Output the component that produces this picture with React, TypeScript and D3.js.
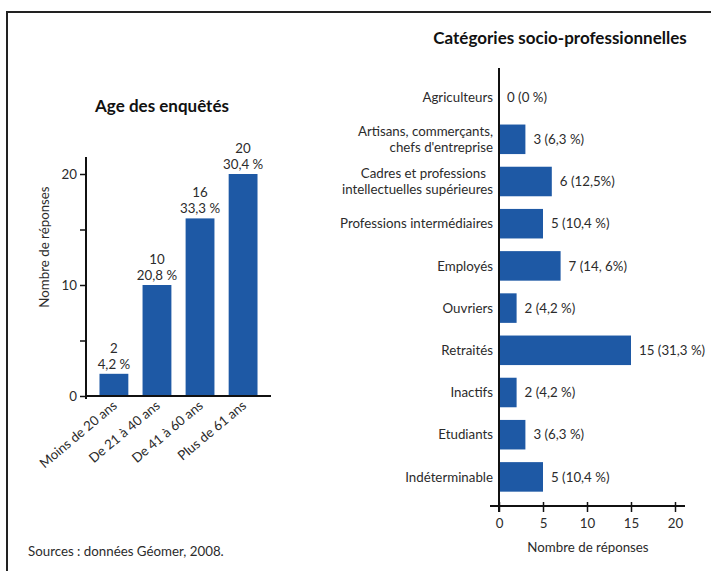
import { useEffect, useRef } from 'react';
import * as d3 from 'd3';

// Age des enquêtés
const ageClasses = ['Moins de 20 ans', 'De 21 à 40 ans', 'De 41 à 60 ans', 'Plus de 61 ans'];
const ageCounts = [2, 10, 16, 20];
const agePercents = ['4,2 %', '20,8 %', '33,3 %', '30,4 %'];
const ageTicks = [0, 5, 10, 15, 20];
const ageTickLabels = [0, 10, 20];

// Catégories socio-professionnelles
const cspLabels = [
  ['Agriculteurs'],
  ['Artisans, commerçants,', "chefs d'entreprise"],
  ['Cadres et professions', 'intellectuelles supérieures'],
  ['Professions intermédiaires'],
  ['Employés'],
  ['Ouvriers'],
  ['Retraités'],
  ['Inactifs'],
  ['Etudiants'],
  ['Indéterminable'],
];
const cspCounts = [0, 3, 6, 5, 7, 2, 15, 2, 3, 5];
const cspValueLabels = ['0 (0 %)', '3 (6,3 %)', '6 (12,5%)', '5 (10,4 %)', '7 (14, 6%)', '2 (4,2 %)', '15 (31,3 %)', '2 (4,2 %)', '3 (6,3 %)', '5 (10,4 %)'];
const cspTicks = [0, 5, 10, 15, 20];

const FONT = 'Lato, "Open Sans", sans-serif';
const BLUE = '#1e59a5';
const TEXT = '#2b2b2b';
const FS = 13.3;

export default function App() {
  const svgRef = useRef<SVGSVGElement>(null);

  useEffect(() => {
    if (!svgRef.current) return;
    const svg = d3.select(svgRef.current);
    svg.selectAll('*').remove();

    svg.append('rect')
      .attr('width', 711).attr('height', 571).attr('fill', '#fff');

    // cadre
    svg.append('path')
      .attr('d', 'M7,580 L7,12 L720,12')
      .attr('fill', 'none')
      .attr('stroke', '#222')
      .attr('stroke-width', 2);

    // ---------- graphique de gauche ----------
    const g1 = svg.append('g').attr('font-family', FONT);

    const x1 = d3.scaleBand<string>()
      .domain(ageClasses)
      .range([87, 270])
      .paddingInner(0.33)
      .paddingOuter(0.29);

    const y1 = d3.scaleLinear().domain([0, 20]).range([396, 174]);

    g1.append('text')
      .attr('x', 162).attr('y', 112)
      .attr('text-anchor', 'middle')
      .attr('font-weight', 'bold')
      .attr('font-size', 17)
      .attr('fill', '#111')
      .text('Age des enquêtés');

    g1.selectAll('rect.bar')
      .data(ageCounts)
      .enter().append('rect')
      .attr('class', 'bar')
      .attr('x', (d, i) => x1(ageClasses[i])!)
      .attr('width', x1.bandwidth())
      .attr('y', d => y1(d))
      .attr('height', d => y1(0) - y1(d))
      .attr('fill', BLUE);

    const lab1 = g1.selectAll('g.lab')
      .data(ageCounts)
      .enter().append('g')
      .attr('class', 'lab')
      .attr('transform', (d, i) => `translate(${x1(ageClasses[i])! + x1.bandwidth() / 2},${y1(d)})`)
      .attr('text-anchor', 'middle')
      .attr('font-size', FS)
      .attr('fill', TEXT);
    lab1.append('text').attr('y', -21).text(d => d);
    lab1.append('text').attr('y', -5).text((d, i) => agePercents[i]);

    // axe Y
    const yAxis1 = d3.axisLeft(y1)
      .tickValues(ageTicks)
      .tickSize(6)
      .tickPadding(3)
      .tickFormat(d => (ageTickLabels.includes(+d) ? String(d) : ''));
    const ya = g1.append('g').attr('transform', 'translate(86,0)').call(yAxis1);
    ya.select('.domain').remove();
    ya.selectAll('line').attr('stroke', '#111').attr('stroke-width', 1.5);
    ya.selectAll('text').attr('font-size', FS).attr('fill', TEXT).attr('font-family', FONT);
    g1.append('line')
      .attr('x1', 86).attr('x2', 86)
      .attr('y1', 157).attr('y2', 399)
      .attr('stroke', '#111').attr('stroke-width', 2);

    // axe X
    g1.append('line')
      .attr('x1', 85).attr('x2', 271)
      .attr('y1', 396).attr('y2', 396)
      .attr('stroke', '#111').attr('stroke-width', 2);

    g1.selectAll('text.xlab')
      .data(ageClasses)
      .enter().append('text')
      .attr('class', 'xlab')
      .attr('transform', d => `translate(${x1(d)! + x1.bandwidth() / 2 + 4},${407}) rotate(-40)`)
      .attr('text-anchor', 'end')
      .attr('font-size', FS)
      .attr('fill', TEXT)
      .text(d => d);

    g1.append('text')
      .attr('transform', 'translate(49,247) rotate(-90)')
      .attr('text-anchor', 'middle')
      .attr('font-size', FS)
      .attr('fill', TEXT)
      .text('Nombre de réponses');

    // ---------- graphique de droite ----------
    const g2 = svg.append('g').attr('font-family', FONT);

    const x2 = d3.scaleLinear().domain([0, 20]).range([499, 675]);
    const y2 = d3.scaleBand<number>()
      .domain(d3.range(cspCounts.length))
      .range([76, 498])
      .paddingInner(0.3)
      .paddingOuter(0.15);

    g2.append('text')
      .attr('x', 560).attr('y', 44)
      .attr('text-anchor', 'middle')
      .attr('font-weight', 'bold')
      .attr('font-size', 17)
      .attr('fill', '#111')
      .text('Catégories socio-professionnelles');

    g2.selectAll('rect.bar')
      .data(cspCounts)
      .enter().append('rect')
      .attr('class', 'bar')
      .attr('x', x2(0))
      .attr('y', (d, i) => y2(i)!)
      .attr('height', y2.bandwidth())
      .attr('width', d => x2(d) - x2(0))
      .attr('fill', BLUE);

    g2.selectAll('text.val')
      .data(cspCounts)
      .enter().append('text')
      .attr('class', 'val')
      .attr('x', d => x2(d) + 8)
      .attr('y', (d, i) => y2(i)! + y2.bandwidth() / 2)
      .attr('dy', '0.35em')
      .attr('font-size', FS)
      .attr('fill', TEXT)
      .text((d, i) => cspValueLabels[i]);

    const cat = g2.selectAll('text.cat')
      .data(cspLabels)
      .enter().append('text')
      .attr('class', 'cat')
      .attr('text-anchor', 'end')
      .attr('font-size', FS)
      .attr('fill', TEXT)
      .attr('y', (d, i) => y2(i)! + y2.bandwidth() / 2);
    cat.selectAll('tspan')
      .data(d => d.map((t, j) => ({ t, j, n: d.length })))
      .enter().append('tspan')
      .attr('x', (p) => (p.n > 1 && p.j === 0 && p.t.startsWith('Cadres') ? 486 : 493))
      .attr('dy', p => (p.j === 0 ? `${0.35 - (p.n - 1) * 0.62}em` : '1.24em'))
      .text(p => p.t);

    // axe Y (ligne seule)
    g2.append('line')
      .attr('x1', 499).attr('x2', 499)
      .attr('y1', 68).attr('y2', 512)
      .attr('stroke', '#111').attr('stroke-width', 2);

    // axe X
    const xAxis2 = d3.axisBottom(x2)
      .tickValues(cspTicks)
      .tickSize(6)
      .tickPadding(7);
    const xa = g2.append('g').attr('transform', 'translate(0,506)').call(xAxis2);
    xa.select('.domain').remove();
    xa.selectAll('line').attr('y1', -4).attr('stroke', '#111').attr('stroke-width', 1.5);
    xa.selectAll('text').attr('font-size', FS).attr('fill', TEXT).attr('font-family', FONT);
    g2.append('line')
      .attr('x1', 490).attr('x2', 685)
      .attr('y1', 506).attr('y2', 506)
      .attr('stroke', '#111').attr('stroke-width', 2);

    g2.append('text')
      .attr('x', 588).attr('y', 552)
      .attr('text-anchor', 'middle')
      .attr('font-size', FS)
      .attr('fill', TEXT)
      .text('Nombre de réponses');

    // source
    svg.append('text')
      .attr('x', 28).attr('y', 556)
      .attr('font-family', FONT)
      .attr('font-size', FS)
      .attr('fill', TEXT)
      .text('Sources : données Géomer, 2008.');
  }, []);

  return (
    <svg
      ref={svgRef}
      width={711}
      height={571}
      style={{ position: 'absolute', left: 0, top: 0 }}
    />
  );
}
